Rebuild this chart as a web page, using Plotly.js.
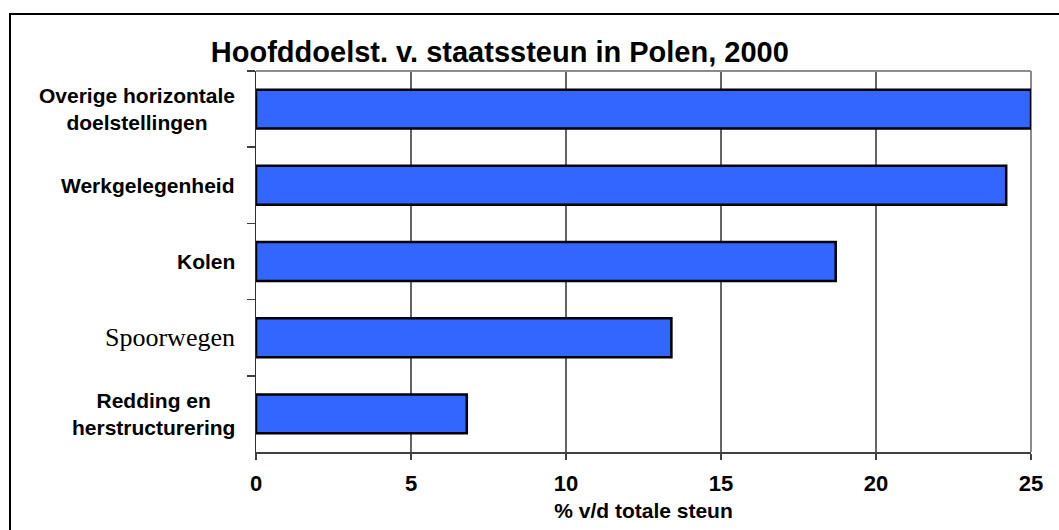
<!DOCTYPE html>
<html>
<head>
<meta charset="utf-8">
<script src="https://cdn.plot.ly/plotly-3.0.1.min.js"></script>
<style>
  html, body { margin: 0; padding: 0; background: #fff; overflow: hidden; }
  #wrap { position: relative; width: 1059px; height: 530px; }
  #chart { position: absolute; left: 0; top: 0; width: 1059px; height: 530px; }
  #frame { position: absolute; left: 9px; top: 13px; width: 1100px; height: 600px;
           border-left: 2px solid #000; border-top: 2px solid #000; pointer-events: none; }
</style>
</head>
<body>
<div id="wrap">
  <div id="chart"></div>
  <div id="frame"></div>
</div>
<script>
// Categories, top to bottom
const categories = [
  "Overige horizontale<br>doelstellingen",
  "Werkgelegenheid",
  "Kolen",
  "Spoorwegen",
  "Redding en<br>herstructurering"
];
// Share of total state aid (%)
const values = [25.0, 24.2, 18.7, 13.4, 6.8];
const xTicks = [0, 5, 10, 15, 20, 25];
const titleText = "Hoofddoelst. v. staatssteun in Polen, 2000";
const xTitle = "% v/d totale steun";

const sansBold = { family: "Liberation Sans, Arial, sans-serif", size: 21, color: "#000", weight: "bold" };
const tickFont = { family: "Liberation Sans, Arial, sans-serif", size: 22, color: "#000", weight: "bold" };
const serifLabel = { family: "Liberation Serif, Times New Roman, serif", size: 26, color: "#000", weight: "normal" };

const trace = {
  type: "bar",
  orientation: "h",
  x: values,
  y: categories,
  marker: { color: "#3366FF", line: { color: "#000", width: 2.5 } },
  cliponaxis: false,
  hoverinfo: "x+y"
};

const annotations = categories.map(c => ({
  xref: "paper", yref: "y",
  x: 0, y: c,
  xanchor: "right", yanchor: "middle",
  xshift: -19,
  align: "center",
  text: c,
  showarrow: false,
  font: c === "Spoorwegen" ? serifLabel : sansBold
}));

// inner vertical gridlines at the interior ticks (drawn through the x scale)
const gridShapes = xTicks.slice(1, -1).map(v => ({
  type: "line", xref: "x", yref: "paper", x0: v, x1: v, y0: 0, y1: 1,
  line: { color: "#111", width: 1.3 }, layer: "below"
}));

const layout = {
  width: 1059, height: 530,
  margin: { l: 256, r: 28, t: 71, b: 78 },
  paper_bgcolor: "#fff",
  plot_bgcolor: "#fff",
  showlegend: false,
  bargap: 0.49,
  title: {
    text: titleText,
    font: { family: "Liberation Sans, Arial, sans-serif", size: 29, color: "#000", weight: "bold" },
    xref: "container", x: 0.472, xanchor: "center",
    yref: "container", y: 0.902, yanchor: "middle"
  },
  xaxis: {
    range: [0, 25],
    tickvals: xTicks,
    ticktext: xTicks.map(String),
    showgrid: false,
    zeroline: false,
    showline: true, linecolor: "#404040", linewidth: 2,
    ticks: "outside", ticklen: 6, tickcolor: "#404040", tickwidth: 1.5,
    ticklabelstandoff: 5,
    tickfont: tickFont,
    title: { text: xTitle, font: sansBold, standoff: 8 },
    fixedrange: true
  },
  yaxis: {
    type: "category",
    autorange: "reversed",
    showticklabels: false,
    showgrid: false,
    zeroline: false,
    showline: true, linecolor: "#303030", linewidth: 1.5,
    ticks: "outside", ticklen: 8, tickcolor: "#404040", tickwidth: 1.5,
    tickson: "boundaries",
    fixedrange: true
  },
  shapes: gridShapes.concat([
    { type: "line", xref: "paper", yref: "paper", x0: 0, x1: 1, y0: 1, y1: 1,
      line: { color: "#8c8c8c", width: 2 }, layer: "below" },
    { type: "line", xref: "paper", yref: "paper", x0: 1, x1: 1, y0: 0, y1: 1,
      line: { color: "#8c8c8c", width: 2 }, layer: "below" }
  ]),
  annotations: annotations
};

Plotly.newPlot("chart", [trace], layout, { displayModeBar: false, staticPlot: true });
</script>
</body>
</html>
